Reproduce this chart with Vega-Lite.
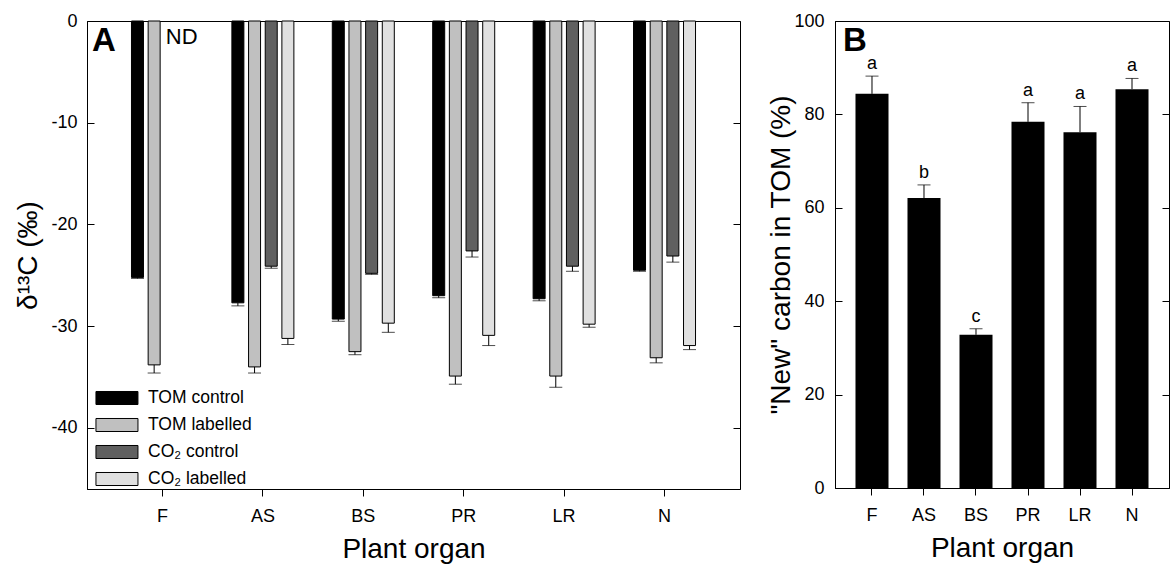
{
  "$schema": "https://vega.github.io/schema/vega-lite/v6.json",
  "background": "white",
  "padding": {"left": 14, "top": 11, "right": 0, "bottom": 0},
  "spacing": 26,
  "resolve": {"legend": {"color": "independent"}},
  "config": {
    "font": "Liberation Sans",
    "view": {"stroke": "#000", "strokeWidth": 1},
    "axis": {"domainColor": "#000", "tickColor": "#000", "labelColor": "#000", "titleColor": "#000", "labelFont": "Liberation Sans", "titleFont": "Liberation Sans", "labelFontSize": 18, "titleFontSize": 28, "titleFontWeight": "normal", "grid": false, "domainWidth": 1, "tickWidth": 1},
    "legend": {"labelFont": "Liberation Sans", "labelColor": "#000"},
    "text": {"font": "Liberation Sans", "color": "#000"},
    "title": {"font": "Liberation Sans", "color": "#000"}
  },
  "datasets": {
    "a": [
      {"organ": "F", "treatment": "TOM control", "value": -25.2, "err": -25.3},
      {"organ": "F", "treatment": "TOM labelled", "value": -33.8, "err": -34.6},
      {"organ": "AS", "treatment": "TOM control", "value": -27.7, "err": -28.0},
      {"organ": "AS", "treatment": "TOM labelled", "value": -34.0, "err": -34.6},
      {"organ": "AS", "treatment": "CO₂ control", "value": -24.1, "err": -24.3},
      {"organ": "AS", "treatment": "CO₂ labelled", "value": -31.2, "err": -31.8},
      {"organ": "BS", "treatment": "TOM control", "value": -29.3, "err": -29.5},
      {"organ": "BS", "treatment": "TOM labelled", "value": -32.5, "err": -32.8},
      {"organ": "BS", "treatment": "CO₂ control", "value": -24.8, "err": -24.9},
      {"organ": "BS", "treatment": "CO₂ labelled", "value": -29.7, "err": -30.6},
      {"organ": "PR", "treatment": "TOM control", "value": -27.0, "err": -27.2},
      {"organ": "PR", "treatment": "TOM labelled", "value": -34.9, "err": -35.7},
      {"organ": "PR", "treatment": "CO₂ control", "value": -22.6, "err": -23.2},
      {"organ": "PR", "treatment": "CO₂ labelled", "value": -30.9, "err": -31.9},
      {"organ": "LR", "treatment": "TOM control", "value": -27.3, "err": -27.5},
      {"organ": "LR", "treatment": "TOM labelled", "value": -34.9, "err": -36.0},
      {"organ": "LR", "treatment": "CO₂ control", "value": -24.1, "err": -24.6},
      {"organ": "LR", "treatment": "CO₂ labelled", "value": -29.8, "err": -30.1},
      {"organ": "N", "treatment": "TOM control", "value": -24.5, "err": -24.6},
      {"organ": "N", "treatment": "TOM labelled", "value": -33.1, "err": -33.6},
      {"organ": "N", "treatment": "CO₂ control", "value": -23.1, "err": -23.7},
      {"organ": "N", "treatment": "CO₂ labelled", "value": -31.9, "err": -32.3}
    ],
    "b": [
      {"organ": "F", "value": 84.4, "err": 88.2, "letter": "a"},
      {"organ": "AS", "value": 62.1, "err": 64.9, "letter": "b"},
      {"organ": "BS", "value": 32.8, "err": 34.1, "letter": "c"},
      {"organ": "PR", "value": 78.4, "err": 82.5, "letter": "a"},
      {"organ": "LR", "value": 76.2, "err": 81.7, "letter": "a"},
      {"organ": "N", "value": 85.4, "err": 87.7, "letter": "a"}
    ]
  },
  "hconcat": [
    {
      "width": 653,
      "height": 468,
      "title": {"text": "A", "anchor": "start", "frame": "group", "fontSize": 33, "fontWeight": "bold", "baseline": "top", "offset": -46, "dx": 5},
      "data": {"name": "a"},
      "layer": [
        {
          "mark": {"type": "bar", "stroke": "#000", "strokeWidth": 1},
          "encoding": {
            "x": {"field": "organ", "type": "nominal", "sort": ["F", "AS", "BS", "PR", "LR", "N"], "scale": {"paddingInner": 0.3825, "paddingOuter": 0.443}, "axis": {"title": "Plant organ", "labelAngle": 0, "tickSize": 7, "labelPadding": 11, "titlePadding": 10}},
            "xOffset": {"field": "treatment", "type": "nominal", "sort": ["TOM control", "TOM labelled", "CO₂ control", "CO₂ labelled"], "scale": {"paddingInner": 0.28, "paddingOuter": 0}},
            "y": {"field": "value", "type": "quantitative", "scale": {"domain": [-46, 0], "nice": false}, "axis": {"title": "δ¹³C (‰)", "values": [0, -10, -20, -30, -40], "labelExpr": "replace(datum.label, '−', '-')", "tickSize": -7, "labelPadding": 17, "titlePadding": 8}},
            "color": {"field": "treatment", "type": "nominal", "sort": ["TOM control", "TOM labelled", "CO₂ control", "CO₂ labelled"], "scale": {"domain": ["TOM control", "TOM labelled", "CO₂ control", "CO₂ labelled"], "range": ["#000000", "#c0c0c0", "#606060", "#e0e0e0"]},
              "legend": {"orient": "bottom-left", "offset": 1, "title": null, "symbolType": "M-0.29,-0.62L3.71,-0.62L3.71,0.62L-0.29,0.62Z", "symbolSize": 441, "symbolStrokeColor": "#000", "symbolStrokeWidth": 1, "symbolOpacity": 1, "labelFontSize": 17.5, "labelOffset": 38, "rowPadding": 7}}
          }
        },
        {
          "mark": {"type": "rule", "color": "#000", "strokeWidth": 1},
          "encoding": {
            "x": {"field": "organ", "type": "nominal", "sort": ["F", "AS", "BS", "PR", "LR", "N"]},
            "xOffset": {"field": "treatment", "type": "nominal", "sort": ["TOM control", "TOM labelled", "CO₂ control", "CO₂ labelled"]},
            "y": {"field": "value", "type": "quantitative", "axis": {"orient": "right", "labels": false, "domain": false, "title": null, "tickSize": -7, "values": [0, -10, -20, -30, -40]}},
            "y2": {"field": "err"}
          }
        },
        {
          "mark": {"type": "tick", "color": "#000", "thickness": 1, "size": 13},
          "encoding": {
            "x": {"field": "organ", "type": "nominal", "sort": ["F", "AS", "BS", "PR", "LR", "N"]},
            "xOffset": {"field": "treatment", "type": "nominal", "sort": ["TOM control", "TOM labelled", "CO₂ control", "CO₂ labelled"]},
            "y": {"field": "err", "type": "quantitative", "axis": null}
          }
        },
        {
          "data": {"values": [{}]},
          "mark": {"type": "text", "text": "ND", "align": "left", "baseline": "top", "dx": -5, "dy": 6, "fontSize": 22},
          "encoding": {
            "x": {"datum": "F", "type": "nominal"},
            "xOffset": {"datum": "CO₂ control", "type": "nominal"},
            "y": {"datum": 0, "type": "quantitative", "axis": null}
          }
        }
      ],
      "resolve": {"axis": {"y": "independent"}}
    },
    {
      "width": 334,
      "height": 467,
      "title": {"text": "B", "anchor": "start", "frame": "group", "fontSize": 33, "fontWeight": "bold", "baseline": "top", "offset": -46, "dx": 8},
      "data": {"name": "b"},
      "layer": [
        {
          "mark": {"type": "bar", "color": "#000"},
          "encoding": {
            "x": {"field": "organ", "type": "nominal", "sort": ["F", "AS", "BS", "PR", "LR", "N"], "scale": {"paddingInner": 0.365, "paddingOuter": 0.394}, "axis": {"title": "Plant organ", "labelAngle": 0, "tickSize": 7, "labelPadding": 11, "titlePadding": 10}},
            "y": {"field": "value", "type": "quantitative", "scale": {"domain": [0, 100], "nice": false}, "axis": {"title": "\"New\" carbon in TOM (%)", "values": [0, 20, 40, 60, 80, 100], "tickSize": -7, "labelPadding": 18, "titlePadding": -2}}
          }
        },
        {
          "mark": {"type": "rule", "color": "#000", "strokeWidth": 1},
          "encoding": {
            "x": {"field": "organ", "type": "nominal", "sort": ["F", "AS", "BS", "PR", "LR", "N"]},
            "y": {"field": "value", "type": "quantitative", "axis": {"orient": "right", "labels": false, "domain": false, "title": null, "tickSize": -7, "values": [0, 20, 40, 60, 80, 100]}},
            "y2": {"field": "err"}
          }
        },
        {
          "mark": {"type": "tick", "color": "#000", "thickness": 1, "size": 13},
          "encoding": {
            "x": {"field": "organ", "type": "nominal", "sort": ["F", "AS", "BS", "PR", "LR", "N"]},
            "y": {"field": "err", "type": "quantitative", "axis": null}
          }
        },
        {
          "mark": {"type": "text", "baseline": "bottom", "dy": -3, "fontSize": 18},
          "encoding": {
            "x": {"field": "organ", "type": "nominal", "sort": ["F", "AS", "BS", "PR", "LR", "N"]},
            "y": {"field": "err", "type": "quantitative", "axis": null},
            "text": {"field": "letter"}
          }
        }
      ],
      "resolve": {"axis": {"y": "independent"}}
    }
  ]
}
